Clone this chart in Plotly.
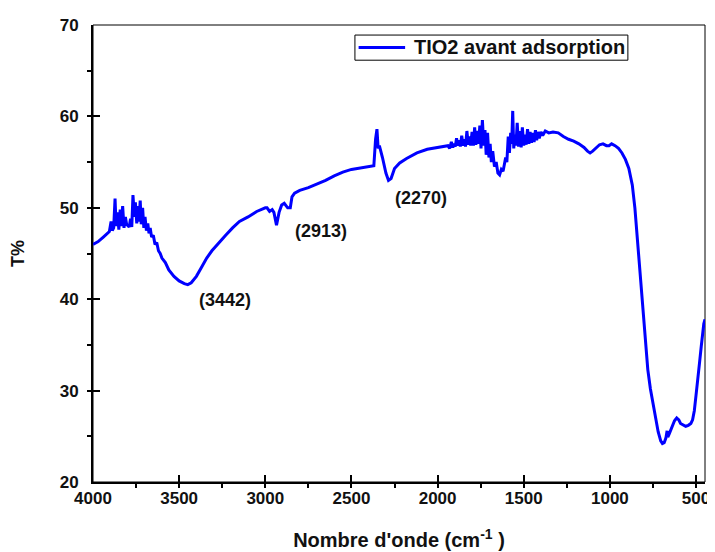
import plotly.graph_objects as go

wavenumber = [
    4000, 3970, 3940, 3920, 3905, 3895, 3888, 3880, 3872, 3866, 3858, 3850, 3842, 3835, 3828, 3820,
    3812, 3805, 3798, 3790, 3782, 3775, 3768, 3760, 3754, 3746, 3740, 3733, 3726, 3720, 3712, 3705,
    3698, 3690, 3682, 3675, 3668, 3660, 3650, 3640, 3630, 3620, 3610, 3600, 3580, 3560, 3530, 3500,
    3470, 3450, 3430, 3400, 3370, 3340, 3310, 3270, 3230, 3190, 3150, 3100, 3050, 3000, 2990, 2975,
    2960, 2950, 2935, 2920, 2905, 2890, 2870, 2855, 2845, 2830, 2800, 2750, 2700, 2650, 2600, 2550,
    2500, 2440, 2400, 2370, 2360, 2352, 2345, 2338, 2320, 2300, 2285, 2270, 2250, 2220, 2180, 2120,
    2060, 2000, 1960, 1940, 1930, 1920, 1912, 1905, 1897, 1890, 1882, 1875, 1868, 1860, 1852, 1845,
    1838, 1830, 1822, 1815, 1808, 1800, 1792, 1785, 1778, 1770, 1762, 1755, 1748, 1740, 1732, 1725,
    1718, 1710, 1702, 1695, 1688, 1680, 1670, 1660, 1650, 1640, 1630, 1620, 1612, 1605, 1598, 1590,
    1583, 1576, 1570, 1564, 1558, 1552, 1545, 1538, 1530, 1523, 1515, 1508, 1500, 1493, 1486, 1478,
    1470, 1463, 1455, 1448, 1440, 1432, 1425, 1418, 1410, 1400, 1390, 1375, 1355, 1330, 1300, 1270,
    1240, 1210, 1180, 1150, 1130, 1115, 1100, 1080, 1060, 1040, 1020, 1005, 990, 970, 950, 930,
    910, 890, 870, 855, 840, 825, 810, 795, 780, 765, 750, 735, 720, 705, 695, 685,
    675, 668, 664, 655, 640, 625, 612, 600, 590, 575, 560, 545, 530, 520, 510, 500,
    490, 480, 470, 460, 455, 448,
]

transmittance = [
    46.0, 46.3, 46.8, 47.2, 47.4, 48.5, 47.5, 47.8, 51.0, 48.0, 49.5, 47.6, 49.8, 48.0, 50.2, 47.8,
    49.0, 48.2, 48.0, 47.9, 48.8, 47.9, 51.4, 49.0, 50.6, 48.3, 50.2, 48.5, 50.8, 48.2, 50.0, 47.8,
    49.0, 47.5, 48.3, 47.2, 47.8, 46.8, 47.0, 46.0, 46.2, 45.3, 45.0, 44.5, 44.0, 43.2, 42.5, 42.0,
    41.7, 41.6, 41.8, 42.5, 43.5, 44.5, 45.3, 46.2, 47.0, 47.8, 48.5, 49.0, 49.6, 50.0, 50.0, 49.6,
    49.8, 49.5, 48.1, 49.5, 50.3, 50.5, 50.0, 50.0, 51.2, 51.6, 51.9, 52.2, 52.6, 53.0, 53.5, 53.9,
    54.2, 54.4, 54.5, 54.6, 57.5, 58.6, 56.5, 56.8, 55.5, 53.8, 53.0, 53.2, 54.3, 54.9, 55.4, 56.0,
    56.4, 56.6, 56.8, 56.8, 56.5, 57.2, 56.6, 57.0, 56.7, 57.6, 56.8, 57.4, 56.7, 57.9, 56.8, 57.5,
    56.7, 58.4, 56.9, 57.8, 56.8, 58.3, 56.8, 58.8, 56.9, 58.4, 57.0, 59.0, 56.5, 59.6, 56.8, 58.5,
    55.8, 58.2, 55.5, 57.0, 55.0, 56.2, 54.5, 55.0, 53.8, 53.6, 54.2, 54.0, 54.8, 55.5, 55.0, 57.8,
    56.0, 58.2, 57.0, 60.6, 56.5, 58.0, 56.8, 59.3, 56.7, 58.4, 56.6, 58.8, 56.8, 58.0, 56.9, 58.6,
    57.0, 58.3, 57.1, 58.2, 57.2, 58.5, 57.4, 58.3, 57.6, 58.3, 57.9, 58.4, 58.2, 58.3, 58.2, 57.8,
    57.5, 57.3, 57.0, 56.6, 56.2, 56.0, 56.2, 56.6, 56.9, 57.0, 56.8, 56.8, 57.0, 56.8, 56.5, 56.0,
    55.3, 54.3, 52.5, 50.0, 46.5, 42.5, 38.5, 35.0, 32.3, 30.2, 28.5, 27.0, 25.5, 24.5, 24.2, 24.3,
    24.8, 25.6, 24.9, 25.3, 26.0, 26.7, 27.0, 26.8, 26.4, 26.2, 26.1, 26.2, 26.4, 26.8, 27.8, 29.5,
    31.0, 33.0, 34.8, 36.5, 37.3, 37.8,
]

series_name = "TIO2 avant adsorption"
peak_labels = ["(3442)", "(2913)", "(2270)"]
peak_label_x = [3233, 2677, 2099]
peak_label_y = [39.9, 47.5, 51.1]

FONT = "Liberation Sans, Arial, sans-serif"
LINE_COLOR = "#0000FF"

fig = go.Figure()
fig.add_trace(go.Scatter(
    x=wavenumber, y=transmittance, mode="lines", name=series_name,
    line=dict(color=LINE_COLOR, width=3), showlegend=False,
))

for t, xv, yv in zip(peak_labels, peak_label_x, peak_label_y):
    fig.add_annotation(x=xv, y=yv, text=t, showarrow=False,
                       font=dict(family=FONT, size=18, color="#111", weight="bold"))

# thin frame on top/right
fig.add_shape(type="rect", xref="paper", yref="paper", x0=0, x1=1, y0=0, y1=1,
              line=dict(color="black", width=1), layer="below")

# legend box (drawn to match the small bordered key of the original)
fig.add_shape(type="rect", xref="paper", yref="paper", x0=0.428, x1=0.874, y0=0.923, y1=0.978,
              line=dict(color="black", width=1), fillcolor="white", layer="above")
fig.add_shape(type="line", xref="paper", yref="paper", x0=0.434, x1=0.510, y0=0.951, y1=0.951,
              line=dict(color=LINE_COLOR, width=3), layer="above")
fig.add_annotation(xref="paper", yref="paper", x=0.521, y=0.951, xanchor="left", yanchor="middle",
                   text=series_name, showarrow=False,
                   font=dict(family=FONT, size=20, color="#111", weight="bold"))

axis_common = dict(
    showgrid=False, zeroline=False, showline=True, linecolor="black", linewidth=2,
    ticks="inside", ticklen=7, tickwidth=2, tickcolor="black", automargin=False,
    tickfont=dict(family=FONT, size=17, color="#111", weight="bold"),
)

fig.update_layout(
    width=707, height=544,
    margin=dict(l=85, r=10, t=17, b=70),
    plot_bgcolor="white", paper_bgcolor="white",
    showlegend=False,
    xaxis=dict(range=[4000, 448], tick0=0, dtick=500,
               minor=dict(ticks="outside", ticklen=4, tickwidth=2, dtick=250, tickcolor="black"),
               title=dict(text="Nombre d'onde (cm<sup>-1</sup> )", standoff=26,
                          font=dict(family=FONT, size=20, color="#111", weight="bold")),
               **axis_common),
    yaxis=dict(range=[20, 70], tick0=0, dtick=10, ticklabelstandoff=9,
               minor=dict(ticks="outside", ticklen=4, tickwidth=2, dtick=5, tickcolor="black"),
               title=dict(text="T%", standoff=30,
                          font=dict(family=FONT, size=18, color="#111", weight="bold")),
               **axis_common),
)

fig.write_html("out.html")
